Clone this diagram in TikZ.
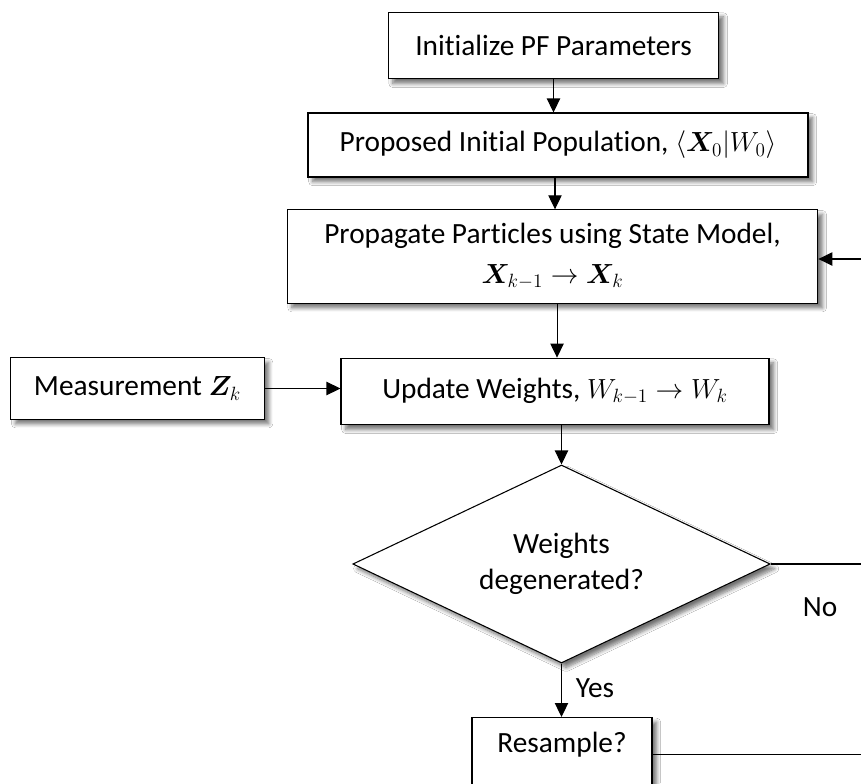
\documentclass[tikz,border=0pt]{standalone}
\usepackage{fontspec}
\usepackage{amsmath}
\usepackage{bm}
\setmainfont{Carlito}[Ligatures={NoCommon,NoRare,NoContextual},Contextuals={NoAlternate},RawFeature={-liga;-clig;-dlig;-calt}]
\usetikzlibrary{shapes.geometric,arrows.meta,shadows.blur}

\tikzset{
  every node/.style={font=\fontsize{22}{27}\selectfont},
  softshadow/.style={blur shadow={shadow xshift=3.5pt, shadow yshift=-3.5pt,
    shadow blur steps=7, shadow blur radius=3pt, shadow opacity=55}},
  flowbox/.style={draw=black, line width=0.8pt, fill=white, rectangle,
    inner sep=0pt, align=center, softshadow},
  decision/.style={draw=black, line width=0.8pt, fill=white, diamond, aspect=2.1,
    inner sep=0pt, align=center, softshadow},
  flow/.style={draw=black, line width=0.8pt, -{Triangle[length=10.5pt,width=10pt]}},
  plain/.style={draw=black, line width=0.8pt},
  tag/.style={inner sep=0pt}
}

\begin{document}
\begin{tikzpicture}[x=0.75pt, y=-0.75pt]
  \clip (0,0) rectangle (861,783);
  \fill[white] (0,0) rectangle (861,783);

  % process boxes
  \node[flowbox, minimum width=248pt, minimum height=50pt] (init) at (553.5,45.5)
    {Initialize PF Parameters};
  \node[flowbox, minimum width=375pt, minimum height=48pt] (pop) at (558,145)
    {Proposed Initial Population, $\langle \bm{X}_0 | W_0 \rangle$};
  \node[flowbox, minimum width=398pt, minimum height=70pt] (prop) at (552.5,256.5)
    {Propagate Particles using State Model,\\[3pt] $\bm{X}_{k-1} \rightarrow \bm{X}_k$};
  \node[flowbox, minimum width=321pt, minimum height=50pt] (upd) at (555,391.5)
    {Update Weights, $W_{k-1} \rightarrow W_k$};
  \node[flowbox, minimum width=190pt, minimum height=46pt] (meas) at (137.5,388.5)
    {Measurement $\bm{Z}_k$};
  \node[decision, minimum width=313pt, minimum height=148.5pt] (deg) at (561.5,564)
    {Weights\\degenerated?};
  \node[flowbox, anchor=north, minimum width=135pt, text height=26pt, text depth=30pt]
    (res) at (562,717) {Resample?};

  % loop ends at the right margin
  \coordinate (back) at (861,259);
  \coordinate (noend) at (861,566);
  \coordinate (resend) at (861,754);

  % connectors
  \draw[flow] (init.south) -- (init.south |- pop.north);
  \draw[flow] ([xshift=-2.25pt]pop.south) -- ([xshift=-2.25pt]pop.south |- prop.north);
  \draw[flow] ([xshift=3.4pt]prop.south) -- ([xshift=3.4pt]prop.south |- upd.north);
  \draw[flow] (deg.north |- upd.south) -- (deg.north);
  \draw[flow] (meas.east) -- (meas.east -| upd.west);
  \draw[flow] (deg.south) -- (deg.south |- res.north);
  \draw[flow] (back) -- (back -| prop.east);
  \draw[plain] (deg.east) -- (deg.east -| noend);
  \draw[plain] (res.east) -- (res.east -| resend);

  % branch labels
  \node[tag] (no) at (820,607) {No};
  \node[tag] (yes) at (595,688) {Yes};
\end{tikzpicture}
\end{document}
